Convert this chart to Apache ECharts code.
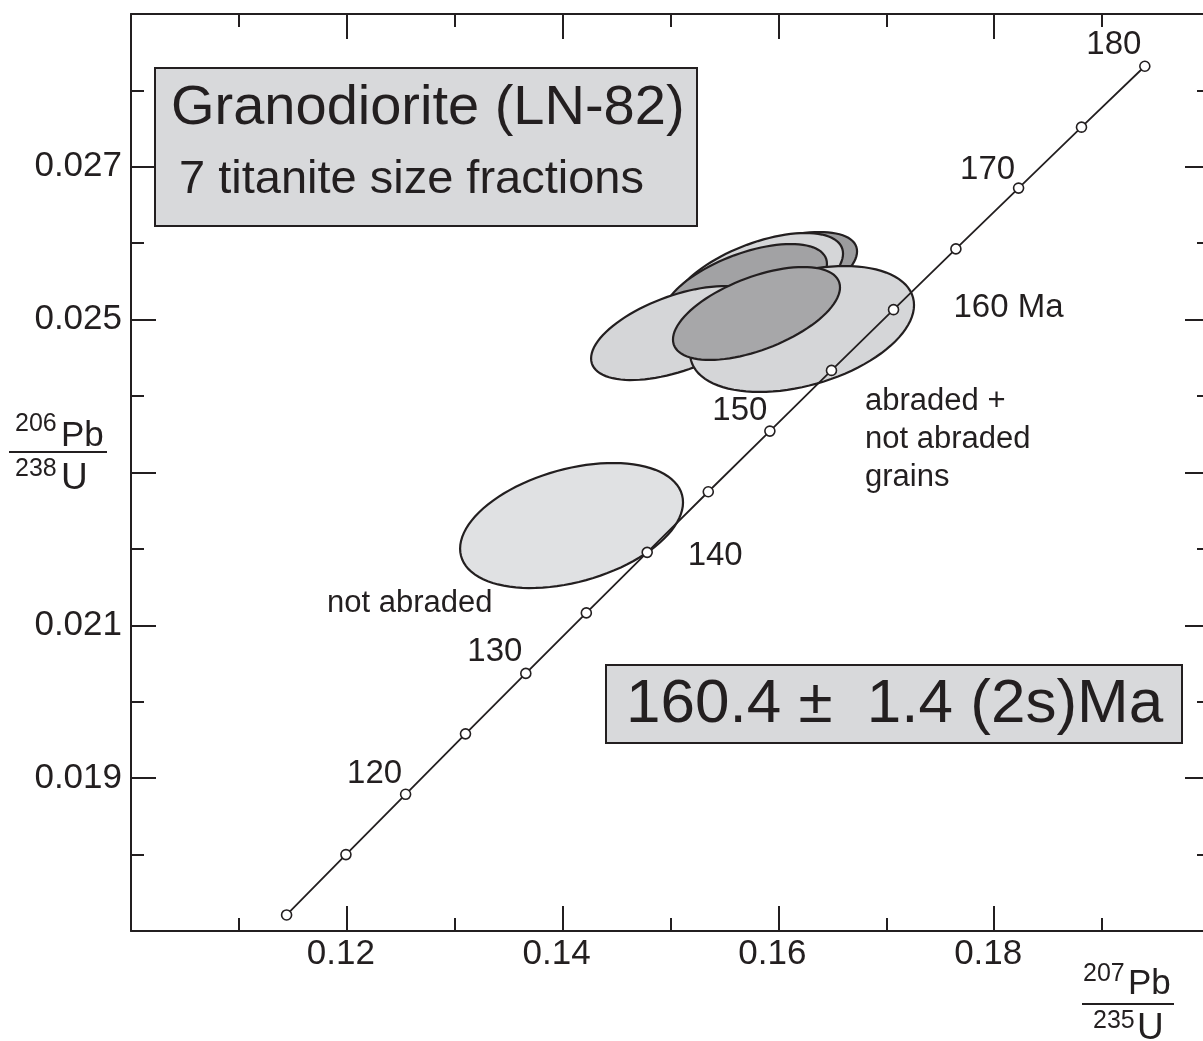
<!DOCTYPE html>
<html>
<head>
    <meta charset="utf-8">
    <script src="https://cdn.jsdelivr.net/npm/echarts@6/dist/echarts.min.js"></script>
    <style>
        html, body { margin: 0; padding: 0; background: #fff; }
    </style>
</head>
<body>
<div id="main" style="width: 1203px;height:1041px;"></div>
<script type="text/javascript">
// concordia ticks (Ma) and their ratios
var ages = [110, 115, 120, 125, 130, 135, 140, 145, 150, 155, 160, 165, 170, 175, 180];
var pb207u235 = [0.11442, 0.11992, 0.12545, 0.13100, 0.13659, 0.14220, 0.14784, 0.15350,
                 0.15921, 0.16492, 0.17067, 0.17645, 0.18226, 0.18809, 0.19396];
var pb206u238 = [0.017210, 0.018000, 0.018789, 0.019580, 0.020371, 0.021163, 0.021955, 0.022748,
                 0.023542, 0.024336, 0.025131, 0.025926, 0.026722, 0.027519, 0.028316];

// labelled ages on the curve
var labelAges = [120, 130, 140, 150, 160, 170, 180];
var labelTexts = ['120', '130', '140', '150', '160 Ma', '170', '180'];

// error ellipses: centre x, centre y, half width x, half height y, correlation (back to front)
var ellX   = [0.15941, 0.15811, 0.15690, 0.15070, 0.16219, 0.14083, 0.15797];
var ellY   = [0.025571, 0.025519, 0.025401, 0.024825, 0.024878, 0.022306, 0.025081];
var ellSx  = [0.00788, 0.00788, 0.00760, 0.00806, 0.01038, 0.01033, 0.00774];
var ellSy  = [0.000576, 0.000615, 0.000589, 0.000615, 0.000824, 0.000818, 0.000608];
var ellRho = [0.56, 0.56, 0.56, 0.54, 0.38, 0.37, 0.56];
var ellFill = ['#9c9c9e', '#d5d6d8', '#a2a2a4', '#d5d6d8', '#d5d6d8', '#e0e1e3', '#a7a7a9'];

var xTicks = [0.12, 0.14, 0.16, 0.18];
var yTicks = [0.019, 0.021, 0.025, 0.027];

var FONT = "'Liberation Sans', Arial, Helvetica, sans-serif";
var INK = '#231f20';

var chart = echarts.init(document.getElementById('main'));

var ellData = ellX.map(function (x, i) {
    return [x, ellY[i], ellSx[i], ellSy[i], ellRho[i]];
});
var curveData = ages.map(function (a, i) {
    return [pb207u235[i], pb206u238[i]];
});
// label offsets in pixels from the curve point
var labelOffsets = {120: [-31, -20], 130: [-31, -21], 140: [68, 4], 150: [-30, -20],
                    160: [115, -2], 170: [-31, -18], 180: [-31, -21]};
var labelData = labelAges.map(function (a, i) {
    var k = ages.indexOf(a);
    return {
        value: [pb207u235[k], pb206u238[k]],
        label: { formatter: labelTexts[i], offset: labelOffsets[a] }
    };
});

function hasTick(list, v) {
    for (var i = 0; i < list.length; i++) {
        if (Math.abs(list[i] - v) < 1e-7) return true;
    }
    return false;
}

var tickCommon = {
    axisLine: { show: true, onZero: false, lineStyle: { color: INK, width: 2 } },
    axisTick: { show: true, inside: true, length: 25, lineStyle: { color: INK, width: 2 } },
    minorTick: { show: true, splitNumber: 2, length: 13, lineStyle: { color: INK, width: 2 } },
    splitLine: { show: false },
    minorSplitLine: { show: false }
};

var option = {
    backgroundColor: '#fff',
    animation: false,
    grid: { left: 131, top: 14, width: 1079, height: 917, containLabel: false, outerBoundsMode: 'none' },
    xAxis: [
        Object.assign({
            type: 'value', min: 0.10, max: 0.20, interval: 0.02, position: 'bottom',
            axisLabel: {
                show: true, margin: 6, fontSize: 35, color: INK, fontFamily: FONT,
                padding: [0, 12, 0, 0],
                formatter: function (v) { return hasTick(xTicks, v) ? v.toFixed(2) : ''; }
            }
        }, tickCommon),
        Object.assign({
            type: 'value', min: 0.10, max: 0.20, interval: 0.02, position: 'top',
            axisLabel: { show: false }
        }, tickCommon)
    ],
    yAxis: [
        Object.assign({
            type: 'value', min: 0.017, max: 0.029, interval: 0.002, position: 'left',
            axisLabel: {
                show: true, margin: 9, fontSize: 35, color: INK, fontFamily: FONT,
                formatter: function (v) { return hasTick(yTicks, v) ? v.toFixed(3) : ''; }
            }
        }, tickCommon),
        Object.assign({
            type: 'value', min: 0.017, max: 0.029, interval: 0.002, position: 'right',
            axisLabel: { show: false }
        }, tickCommon)
    ],
    series: [
        {
            type: 'custom',
            name: 'ellipses',
            data: ellData,
            z: 2,
            renderItem: function (params, api) {
                var cx = api.value(0), cy = api.value(1), sx = api.value(2), sy = api.value(3), r = api.value(4);
                var q = Math.sqrt(1 - r * r);
                var pts = [];
                for (var k = 0; k < 96; k++) {
                    var t = k / 96 * Math.PI * 2;
                    pts.push(api.coord([cx + sx * Math.cos(t), cy + sy * (r * Math.cos(t) + q * Math.sin(t))]));
                }
                return {
                    type: 'polygon',
                    shape: { points: pts },
                    style: { fill: ellFill[params.dataIndex], stroke: INK, lineWidth: 2.2 }
                };
            }
        },
        {
            type: 'line',
            name: 'concordia',
            data: curveData,
            z: 3,
            symbol: 'circle',
            symbolSize: 10,
            showAllSymbol: true,
            lineStyle: { color: INK, width: 1.8 },
            itemStyle: { color: '#fff', borderColor: INK, borderWidth: 1.6 }
        },
        {
            type: 'scatter',
            name: 'ages',
            data: labelData,
            z: 4,
            symbolSize: 0,
            silent: true,
            itemStyle: { opacity: 1 },
            label: {
                show: true, position: 'inside', fontSize: 33, color: INK, opacity: 1, fontFamily: FONT,
                align: 'center', verticalAlign: 'middle'
            }
        }
    ],
    graphic: [
        // title box
        { type: 'rect', z: 10, shape: { x: 155, y: 68, width: 542, height: 158 },
          style: { fill: '#d8d9db', stroke: INK, lineWidth: 2 } },
        { type: 'text', z: 11, x: 171, y: 109,
          style: { text: 'Granodiorite (LN-82)', font: '56px ' + FONT, fill: INK, textAlign: 'left', textVerticalAlign: 'middle' } },
        { type: 'text', z: 11, x: 179, y: 180,
          style: { text: '7 titanite size fractions', font: '47px ' + FONT, fill: INK, textAlign: 'left', textVerticalAlign: 'middle' } },
        // age box
        { type: 'rect', z: 10, shape: { x: 606, y: 665, width: 576, height: 78 },
          style: { fill: '#d8d9db', stroke: INK, lineWidth: 2 } },
        { type: 'text', z: 11, x: 626, y: 705,
          style: { text: '160.4 \u00b1  1.4 (2s)Ma', font: '62px ' + FONT, fill: INK, textAlign: 'left', textVerticalAlign: 'middle' } },
        // notes
        { type: 'text', z: 11, x: 865, y: 401,
          style: { text: 'abraded +', font: '31px ' + FONT, fill: INK, textAlign: 'left', textVerticalAlign: 'middle' } },
        { type: 'text', z: 11, x: 865, y: 439,
          style: { text: 'not abraded', font: '31px ' + FONT, fill: INK, textAlign: 'left', textVerticalAlign: 'middle' } },
        { type: 'text', z: 11, x: 865, y: 477,
          style: { text: 'grains', font: '31px ' + FONT, fill: INK, textAlign: 'left', textVerticalAlign: 'middle' } },
        { type: 'text', z: 11, x: 327, y: 603,
          style: { text: 'not abraded', font: '31px ' + FONT, fill: INK, textAlign: 'left', textVerticalAlign: 'middle' } },
        // y axis name 206Pb/238U
        { type: 'text', z: 11, x: 15, y: 437,
          style: { text: '206', font: '25px ' + FONT, fill: INK, textAlign: 'left', textVerticalAlign: 'bottom' } },
        { type: 'text', z: 11, x: 61, y: 454,
          style: { text: 'Pb', font: '35px ' + FONT, fill: INK, textAlign: 'left', textVerticalAlign: 'bottom' } },
        { type: 'line', z: 11, shape: { x1: 9, y1: 452, x2: 107, y2: 452 }, style: { stroke: INK, lineWidth: 2 } },
        { type: 'text', z: 11, x: 15, y: 482,
          style: { text: '238', font: '25px ' + FONT, fill: INK, textAlign: 'left', textVerticalAlign: 'bottom' } },
        { type: 'text', z: 11, x: 61, y: 497,
          style: { text: 'U', font: '37px ' + FONT, fill: INK, textAlign: 'left', textVerticalAlign: 'bottom' } },
        // x axis name 207Pb/235U
        { type: 'text', z: 11, x: 1083, y: 987,
          style: { text: '207', font: '25px ' + FONT, fill: INK, textAlign: 'left', textVerticalAlign: 'bottom' } },
        { type: 'text', z: 11, x: 1128, y: 1002,
          style: { text: 'Pb', font: '35px ' + FONT, fill: INK, textAlign: 'left', textVerticalAlign: 'bottom' } },
        { type: 'line', z: 11, shape: { x1: 1082, y1: 1004, x2: 1174, y2: 1004 }, style: { stroke: INK, lineWidth: 2 } },
        { type: 'text', z: 11, x: 1093, y: 1034,
          style: { text: '235', font: '25px ' + FONT, fill: INK, textAlign: 'left', textVerticalAlign: 'bottom' } },
        { type: 'text', z: 11, x: 1137, y: 1047,
          style: { text: 'U', font: '37px ' + FONT, fill: INK, textAlign: 'left', textVerticalAlign: 'bottom' } }
    ]
};

chart.setOption(option);
</script>
</body>
</html>
